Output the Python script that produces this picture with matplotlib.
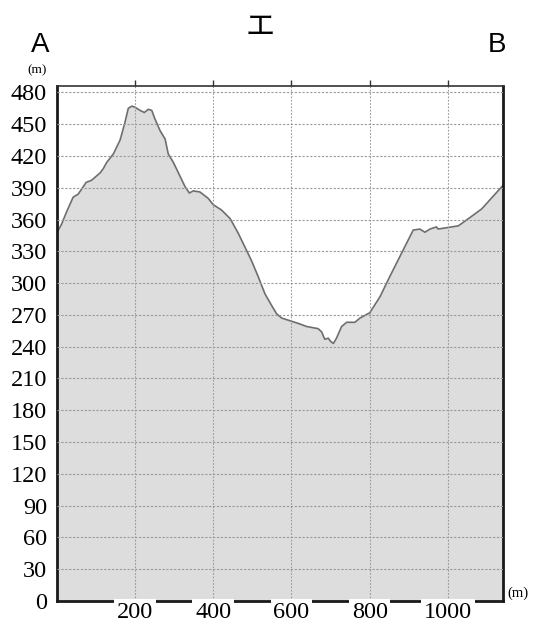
import matplotlib
matplotlib.use("Agg")
import matplotlib.pyplot as plt

# profile A -> B, distance (m) and elevation (m)
dist = [0, 13, 25, 42, 55, 68, 75, 89, 111, 119, 128, 145, 162, 174, 183, 192,
        200, 213, 224, 234, 243, 251, 264, 277, 285, 298, 315, 328, 339, 349,
        366, 387, 400, 421, 443, 464, 485, 498, 515, 532, 549, 562, 575, 600,
        617, 639, 668, 677, 685, 694, 700, 707, 715, 728, 741, 762, 775, 800,
        826, 851, 881, 911, 928, 941, 954, 970, 975, 1026, 1034, 1064, 1086,
        1140]
elev = [347, 356, 367, 381, 384, 391, 395, 397, 404, 408, 414, 422, 435, 451,
        465, 467, 466, 463, 461, 464, 463, 455, 444, 436, 422, 414, 401, 391,
        385, 387, 386, 380, 374, 369, 361, 347, 331, 321, 306, 290, 279, 271,
        267, 264, 262, 259, 257, 254, 247, 248, 245, 243, 248, 259, 263, 263,
        267, 272, 287, 306, 328, 350, 351, 348, 351, 353, 351, 354, 356, 364,
        370, 392]

yticks = list(range(0, 481, 30))
xticks = [200, 400, 600, 800, 1000]

fig = plt.figure(figsize=(5.43, 6.26), dpi=100)
ax = fig.add_axes([0.1044, 0.04, 0.8216, 0.8226])

ax.fill_between(dist, elev, 0, color="#dddddd", lw=0, zorder=1)
ax.plot(dist, elev, color="#6e6e6e", lw=1.2, zorder=2)

ax.set_xlim(0, 1140)
ax.set_ylim(0, 486)

ax.set_axisbelow(False)
ax.set_yticks(yticks)
ax.set_yticklabels([str(v) for v in yticks], family="Liberation Serif", fontsize=17.5)
ax.yaxis.grid(True, color="#999999", lw=0.8, ls=(0, (2, 1.5)))
ax.tick_params(axis="y", length=0, pad=7)

# bottom labels with white boxes breaking the base line
ax.set_xticks(xticks)
ax.set_xticklabels([str(v) for v in xticks], family="Liberation Serif", fontsize=17.5)
for lab in ax.get_xticklabels():
    lab.set_bbox(dict(facecolor="white", edgecolor="none", pad=2))
ax.tick_params(axis="x", length=0, pad=0.5)
ax.xaxis.set_zorder(6)

# top ticks and vertical grid
top = ax.secondary_xaxis("top")
top.set_xticks(xticks)
top.set_xticklabels([])
top.tick_params(length=4, width=1, color="#333333")
top.spines["top"].set_visible(False)
for x in xticks:
    ax.axvline(x, color="#999999", lw=0.8, ls=(0, (1.5, 1.5)), zorder=2.5)

for s in ["left", "right", "bottom"]:
    ax.spines[s].set_linewidth(2)
    ax.spines[s].set_color("#1a1a1a")
ax.spines["top"].set_linewidth(1.2)
ax.spines["top"].set_color("#333333")
ax.spines["bottom"].set_zorder(3)

fig.text(40 / 543, 1 - 45 / 626, "A", family="Liberation Sans", fontsize=20,
         ha="center", va="center")
fig.text(497 / 543, 1 - 45 / 626, "B", family="Liberation Sans", fontsize=20,
         ha="center", va="center")
fig.text(260 / 543, 1 - 27 / 626, "エ", family=["Noto Sans CJK JP", "DejaVu Sans"],
         fontsize=21, ha="center", va="center")
fig.text(37 / 543, 1 - 70 / 626, "(m)", family="Liberation Serif", fontsize=9.5,
         ha="center", va="center")
fig.text(518 / 543, 1 - 593 / 626, "(m)", family="Liberation Serif", fontsize=10.5,
         ha="center", va="center")

fig.savefig("out.png", dpi=100)
